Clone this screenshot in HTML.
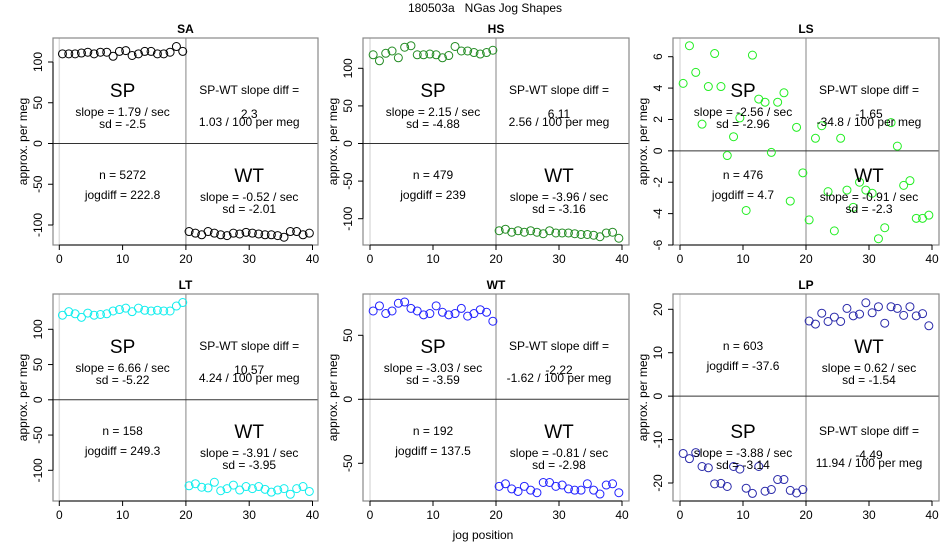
<!DOCTYPE html>
<html><head><meta charset="utf-8">
<style>
html,body{margin:0;padding:0;background:#fff;}
svg{display:block;font-family:"Liberation Sans",Arial,sans-serif;}
</style></head>
<body>
<svg id="chart" width="950" height="550" viewBox="0 0 950 550" xmlns="http://www.w3.org/2000/svg">
<text x="485" y="12" font-size="12" text-anchor="middle" fill="#000" xml:space="preserve">180503a   NGas Jog Shapes</text>
<text x="483" y="539" font-size="12" text-anchor="middle" fill="#000">jog position</text>
</svg>
<script>
// x positions shared by all panels
const jogPositions = [0.5,1.5,2.5,3.5,4.5,5.5,6.5,7.5,8.5,9.5,10.5,11.5,12.5,13.5,14.5,15.5,16.5,17.5,18.5,19.5,20.5,21.5,22.5,23.5,24.5,25.5,26.5,27.5,28.5,29.5,30.5,31.5,32.5,33.5,34.5,35.5,36.5,37.5,38.5,39.5];
const xTicks = [0,10,20,30,40];

const saValues = [110,110,110,111,112,110,112,112,107,113,114,108,110,113,113,110,110,112,119,113,
  -108,-110,-112,-108,-110,-112,-113,-110,-111,-109,-110,-111,-112,-112,-113,-115,-108,-108,-112,-110];
const hsValues = [118,110,120,123,114,128,130,118,118,119,118,114,117,129,123,123,121,119,121,124,
  -116,-114,-118,-116,-118,-116,-118,-120,-116,-119,-119,-119,-120,-121,-121,-122,-124,-119,-118,-126];
const lsValues = [4.3,6.7,5.0,1.7,4.1,6.2,4.1,-0.3,0.9,2.1,-3.8,6.1,3.3,3.1,-0.1,3.1,3.7,-3.2,1.5,-1.4,
  -4.4,0.8,1.6,-2.6,-5.1,0.8,-2.5,-3.6,-2.0,-2.5,-2.7,-5.6,-4.9,1.8,0.3,-2.2,-1.9,-4.3,-4.3,-4.1];
const ltValues = [120,125,122,117,123,120,121,122,126,128,130,125,130,127,126,127,126,126,133,138,
  -122,-119,-124,-125,-117,-129,-126,-121,-128,-123,-126,-123,-127,-131,-128,-126,-134,-126,-123,-130];
const wtValues = [69,73,67,69,75,76,71,69,66,67,73,68,66,67,71,65,67,70,68,61,
  -68,-66,-70,-72,-68,-71,-73,-65,-65,-68,-67,-70,-71,-71,-66,-71,-74,-67,-66,-73];
const lpValues = [-13.2,-14.4,-13.0,-16.2,-16.5,-20.2,-20.1,-20.8,-16.2,-16.8,-21.2,-22.4,-16.2,-21.9,-21.5,-19.2,-19.2,-21.7,-22.3,-21.5,
  17.3,16.6,19.1,17.2,18.2,17.2,20.2,18.5,18.9,21.5,19.2,20.6,16.8,20.6,20.2,18.6,20.6,18.5,19.0,16.2];

const saTicks = [-100,-50,0,50,100];
const hsTicks = [-100,-50,0,50,100];
const lsTicks = [-6,-4,-2,0,2,4,6];
const ltTicks = [-100,-50,0,50,100];
const wtTicks = [-50,0,50];
const lpTicks = [-20,-10,0,10,20];

const panelNames = ["SA","HS","LS","LT","WT","LP"];
const panelN = ["5272","479","476","158","192","603"];
const panelJogdiff = ["222.8","239","4.7","249.3","137.5","-37.6"];
const spSlope = ["1.79","2.15","-2.56","6.66","-3.03","-3.88"];
const spSd = ["-2.5","-4.88","-2.96","-5.22","-3.59","-3.14"];
const wtSlope = ["-0.52","-3.96","-0.91","-3.91","-0.81","0.62"];
const wtSd = ["-2.01","-3.16","-2.3","-3.95","-2.98","-1.54"];
const slopeDiff = ["2.3","6.11","-1.65","10.57","-2.22","-4.49"];
const perMeg = ["1.03","2.56","-34.8","4.24","-1.62","11.94"];

// layout (pixel geometry, not data)
const layout = [
  {l:53,r:318,t:38,b:245,x0:59.3,x40:312.5,ya:100,ypa:62,yb:-100,ypb:225,vals:saValues,ticks:saTicks,col:"#000000",yt:24},
  {l:363,r:629,t:38,b:245,x0:370,x40:622,ya:100,ypa:68.3,yb:-100,ypb:218.7,vals:hsValues,ticks:hsTicks,col:"#228b22",yt:334},
  {l:673,r:939,t:38,b:245,x0:680,x40:932,ya:6,ypa:56.7,yb:-6,ypb:245,vals:lsValues,ticks:lsTicks,col:"#22ee22",yt:644},
  {l:53,r:318,t:294,b:501,x0:59.3,x40:312.5,ya:100,ypa:329.3,yb:-100,ypb:470.3,vals:ltValues,ticks:ltTicks,col:"#11eeee",yt:24},
  {l:363,r:629,t:294,b:501,x0:370,x40:622,ya:50,ypa:335.3,yb:-50,ypb:463.3,vals:wtValues,ticks:wtTicks,col:"#2222ff",yt:334},
  {l:673,r:939,t:294,b:501,x0:680,x40:932,ya:20,ypa:309.3,yb:-20,ypb:483,vals:lpValues,ticks:lpTicks,col:"#2a2aaa",yt:644}
];

const NS = "http://www.w3.org/2000/svg";
const svg = document.getElementById('chart');
function mk(tag, attrs, parent){
  const e = document.createElementNS(NS, tag);
  for (const k in attrs) e.setAttribute(k, attrs[k]);
  (parent||svg).appendChild(e);
  return e;
}
function txt(parent, x, y, s, size, extra){
  const e = mk('text', Object.assign({x:x, y:y, 'font-size':size, 'text-anchor':'middle', fill:'#000'}, extra||{}), parent);
  e.textContent = s;
  return e;
}

layout.forEach((p, i) => {
  const g = mk('g', {});
  
  
  const xs = v => p.x0 + (v/40)*(p.x40 - p.x0);
  const ys = v => p.ypb + (v - p.yb)/(p.ya - p.yb)*(p.ypa - p.ypb);

  const t = txt(g, (p.l+p.r)/2, p.t-5, panelNames[i], 12, {'font-weight':'bold'});
  
  

  const v0 = mk('line', {x1:xs(0), x2:xs(0), y1:p.t, y2:p.b, stroke:'#dddddd', 'stroke-width':1.5}, g);
  
  
  const v20 = mk('line', {x1:xs(20), x2:xs(20), y1:p.t, y2:p.b, stroke:'#999999', 'stroke-width':1.2}, g);
  
  
  const h0 = mk('line', {x1:p.l, x2:p.r, y1:ys(0), y2:ys(0), stroke:'#333333', 'stroke-width':1}, g);
  
  

  const box = mk('rect', {x:p.l, y:p.t, width:p.r-p.l, height:p.b-p.t, fill:'none', stroke:'#888888', 'stroke-width':1.2}, g);
  
  

  const xa = mk('g', {}, g);
  
  
  mk('line', {x1:xs(xTicks[0]), x2:xs(xTicks[xTicks.length-1]), y1:p.b, y2:p.b, stroke:'#000', 'stroke-width':1}, xa);
  xTicks.forEach(v => {
    mk('line', {x1:xs(v), x2:xs(v), y1:p.b, y2:p.b+5, stroke:'#000', 'stroke-width':1}, xa);
    const tl = txt(xa, xs(v), p.b+18, String(v), 12);
    
    
  });
  const ya = mk('g', {}, g);
  
  
  mk('line', {x1:p.l, x2:p.l, y1:ys(p.ticks[0]), y2:ys(p.ticks[p.ticks.length-1]), stroke:'#000', 'stroke-width':1}, ya);
  p.ticks.forEach(v => {
    mk('line', {x1:p.l-5, x2:p.l, y1:ys(v), y2:ys(v), stroke:'#000', 'stroke-width':1}, ya);
    const lx = p.l-11, ly = ys(v);
    const tl = txt(ya, lx, ly, String(v), 12, {transform:'rotate(-90 '+lx+' '+ly+')'});
    
    
  });
  const cy = (p.t+p.b)/2;
  const yt = txt(g, p.yt, cy, 'approx. per meg', 12, {transform:'rotate(-90 '+p.yt+' '+cy+')', 'dominant-baseline':'middle'});
  
  

  const pts = mk('g', {}, g);
  
  
  p.vals.forEach((v, k) => {
    const c = mk('circle', {cx:xs(jogPositions[k]), cy:ys(v), r:4, fill:'none', stroke:p.col, 'stroke-width':1}, pts);
    
    
  });

  const lx = xs(10), rx = xs(30);
  const spTop = (i !== 5);
  const an = mk('g', {}, g);
  
  
  const upper = p.t, lower = p.t + 85;
  const spY = spTop ? upper : lower;
  const nY = spTop ? upper + 85 : upper;
  txt(an, lx, spY+59, 'SP', 19);
  txt(an, lx, spY+78, 'slope = ' + spSlope[i] + ' / sec', 12);
  txt(an, lx, spY+90, 'sd = ' + spSd[i], 12);
  txt(an, rx, spY+56, 'SP-WT slope diff =', 12);
  txt(an, rx, spY+80, slopeDiff[i], 12);
  txt(an, rx, spY+88, perMeg[i] + ' / 100 per meg', 12);
  txt(an, lx, nY+56, 'n = ' + panelN[i], 12);
  txt(an, lx, nY+76, 'jogdiff = ' + panelJogdiff[i], 12);
  txt(an, rx, nY+59, 'WT', 19);
  txt(an, rx, nY+78, 'slope = ' + wtSlope[i] + ' / sec', 12);
  txt(an, rx, nY+90, 'sd = ' + wtSd[i], 12);
});
</script>
</body></html>
